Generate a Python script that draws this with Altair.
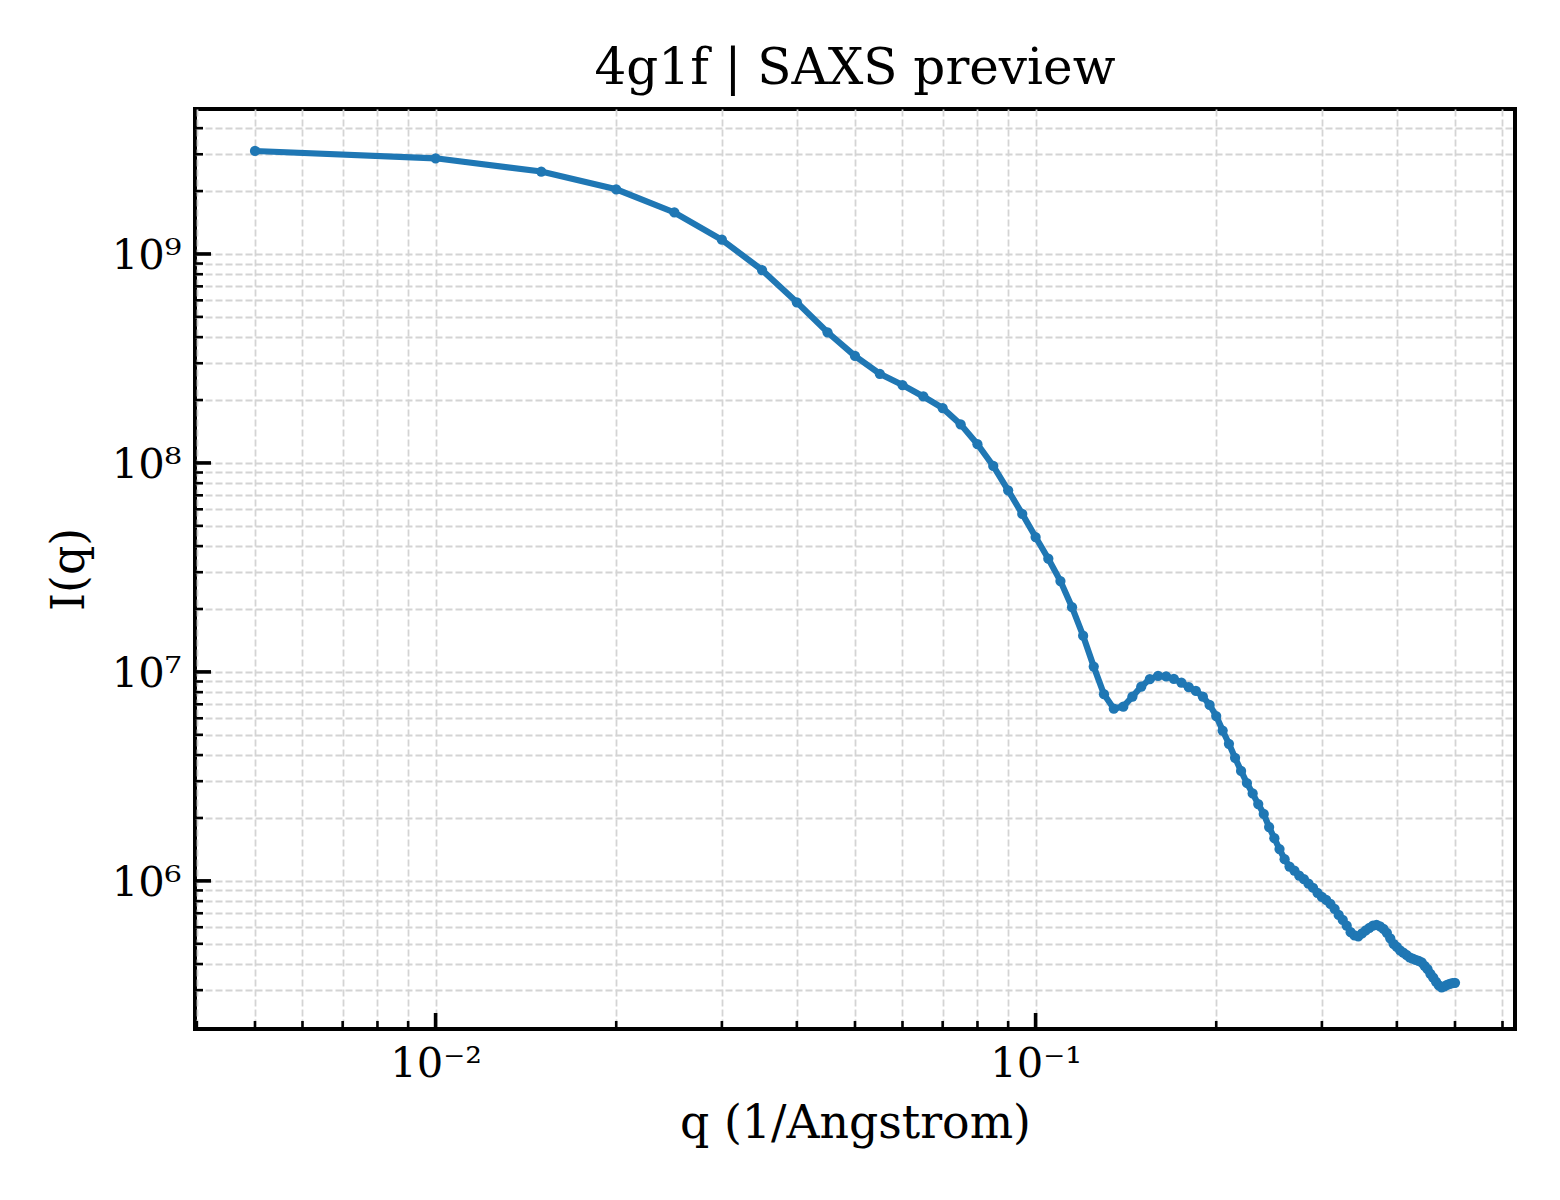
import altair as alt
import pandas as pd

# ---- data ----
q = [0.005, 0.010, 0.015, 0.020, 0.025, 0.030, 0.035, 0.040, 0.045, 0.050,
     0.055, 0.060, 0.065, 0.070, 0.075, 0.080, 0.085, 0.090, 0.095, 0.100,
     0.105, 0.110, 0.115, 0.120, 0.125, 0.130, 0.135, 0.140, 0.145, 0.150,
     0.155, 0.160, 0.165, 0.170, 0.175, 0.180, 0.185, 0.190, 0.195, 0.200,
     0.205, 0.210, 0.215, 0.220, 0.225, 0.230, 0.235, 0.240, 0.245, 0.250,
     0.255, 0.260, 0.265, 0.270, 0.275, 0.280, 0.285, 0.290, 0.295, 0.300,
     0.305, 0.310, 0.315, 0.320, 0.325, 0.330, 0.335, 0.340, 0.345, 0.350,
     0.355, 0.360, 0.365, 0.370, 0.375, 0.380, 0.385, 0.390, 0.395, 0.400,
     0.405, 0.410, 0.415, 0.420, 0.425, 0.430, 0.435, 0.440, 0.445, 0.450,
     0.455, 0.460, 0.465, 0.470, 0.475, 0.480, 0.485, 0.490, 0.495, 0.500]

intensity = [
    3.11e9, 2.87e9, 2.48e9, 2.04e9, 1.58e9, 1.17e9, 8.38e8, 5.87e8, 4.22e8, 3.25e8,
    2.67e8, 2.36e8, 2.08e8, 1.83e8, 1.53e8, 1.23e8, 9.68e7, 7.40e7, 5.70e7, 4.42e7,
    3.48e7, 2.72e7, 2.04e7, 1.49e7, 1.06e7, 7.82e6, 6.67e6, 6.82e6, 7.62e6, 8.51e6,
    9.23e6, 9.57e6, 9.51e6, 9.27e6, 8.89e6, 8.45e6, 8.11e6, 7.62e6, 6.95e6, 6.15e6,
    5.24e6, 4.53e6, 3.88e6, 3.36e6, 2.94e6, 2.62e6, 2.33e6, 2.09e6, 1.81e6, 1.60e6,
    1.42e6, 1.27e6, 1.17e6, 1.12e6, 1.06e6, 1.02e6, 9.70e5, 9.27e5, 8.77e5, 8.38e5,
    8.11e5, 7.76e5, 7.35e5, 6.87e5, 6.50e5, 6.10e5, 5.68e5, 5.48e5, 5.43e5, 5.61e5,
    5.79e5, 5.96e5, 6.10e5, 6.15e5, 6.05e5, 5.89e5, 5.64e5, 5.31e5, 5.00e5, 4.83e5,
    4.65e5, 4.53e5, 4.43e5, 4.31e5, 4.24e5, 4.19e5, 4.14e5, 4.07e5, 3.92e5, 3.78e5,
    3.59e5, 3.44e5, 3.29e5, 3.16e5, 3.09e5, 3.13e5, 3.18e5, 3.21e5, 3.24e5, 3.25e5,
]

x_major = [0.01, 0.1]
x_major_labels = ["10⁻²", "10⁻¹"]
x_minor = [0.004, 0.005, 0.006, 0.007, 0.008, 0.009,
           0.02, 0.03, 0.04, 0.05, 0.06, 0.07, 0.08, 0.09,
           0.2, 0.3, 0.4, 0.5, 0.6]

y_major = [1e6, 1e7, 1e8, 1e9]
y_major_labels = ["10⁶", "10⁷", "10⁸", "10⁹"]
y_minor = [3e5, 4e5, 5e5, 6e5, 7e5, 8e5, 9e5,
           2e6, 3e6, 4e6, 5e6, 6e6, 7e6, 8e6, 9e6,
           2e7, 3e7, 4e7, 5e7, 6e7, 7e7, 8e7, 9e7,
           2e8, 3e8, 4e8, 5e8, 6e8, 7e8, 8e8, 9e8,
           2e9, 3e9, 4e9]

x_domain = [0.003972, 0.6295]
y_domain = [1.955e5, 4.94e9]

# ---- layout / style ----
W, H = 1320, 920
FONT = "DejaVu Serif"
BLUE = "#1f77b4"


def label_expr(values, labels):
    expr = "''"
    for v, lab in reversed(list(zip(values, labels))):
        expr = f"datum.value == {v!r} ? '{lab}' : ({expr})"
    return expr


df = pd.DataFrame({"q": q, "I": intensity})
xs = alt.Scale(type="log", domain=x_domain, nice=False, zero=False)
ys = alt.Scale(type="log", domain=y_domain, nice=False, zero=False)

grid_common = dict(
    grid=True, gridColor="#d4d4d4", gridWidth=1.8, gridDash=[7, 3],
    ticks=False, domain=False, labelOverlap=False, labelFlush=False,
    labelFont=FONT, labelFontSize=41.7, labelColor="black",
    titleFont=FONT, titleFontSize=45.8, titleFontWeight="normal", titleColor="black",
)

x_axis = alt.Axis(
    values=sorted(x_major + x_minor),
    labelExpr=label_expr(x_major, x_major_labels),
    labelPadding=14, labelBaseline="top",
    title="q (1/Angstrom)", titleX=W / 2, titleY=108,
    titleBaseline="alphabetic", titleAlign="center",
    **grid_common,
)
y_axis = alt.Axis(
    values=sorted(y_major + y_minor),
    labelExpr=label_expr(y_major, y_major_labels),
    labelPadding=14, labelAlign="right", labelBaseline="middle", labelOffset=2,
    title="I(q)", titleX=-112, titleY=H / 2, titleAngle=270,
    titleBaseline="alphabetic", titleAlign="center",
    **grid_common,
)

line = alt.Chart(df).mark_line(color=BLUE, strokeWidth=6.2, clip=True).encode(
    x=alt.X("q:Q", scale=xs, axis=x_axis),
    y=alt.Y("I:Q", scale=ys, axis=y_axis),
)
dots = alt.Chart(df).mark_circle(color=BLUE, size=105, opacity=1, clip=True).encode(
    x=alt.X("q:Q", scale=xs, axis=x_axis),
    y=alt.Y("I:Q", scale=ys, axis=y_axis),
)

xmaj = alt.Chart(pd.DataFrame({"q": x_major})).mark_rule(color="black", strokeWidth=3.6).encode(
    x=alt.X("q:Q", scale=xs, axis=x_axis), y=alt.value(H), y2=alt.value(H - 16))
xmin = alt.Chart(pd.DataFrame({"q": x_minor})).mark_rule(color="black", strokeWidth=2.6, clip=True).encode(
    x=alt.X("q:Q", scale=xs, axis=x_axis), y=alt.value(H), y2=alt.value(H - 8))
ymaj = alt.Chart(pd.DataFrame({"I": y_major})).mark_rule(color="black", strokeWidth=3.6).encode(
    y=alt.Y("I:Q", scale=ys, axis=y_axis), x=alt.value(0), x2=alt.value(16))
ymin = alt.Chart(pd.DataFrame({"I": y_minor})).mark_rule(color="black", strokeWidth=2.6, clip=True).encode(
    y=alt.Y("I:Q", scale=ys, axis=y_axis), x=alt.value(0), x2=alt.value(8))

chart = alt.layer(line, dots, xmaj, xmin, ymaj, ymin).properties(
    width=W, height=H,
    autosize=alt.AutoSizeParams(type="none"),
    padding={"left": 187, "top": 101, "right": 30, "bottom": 150},
    title=alt.TitleParams(
        "4g1f | SAXS preview", font=FONT, fontSize=50, fontWeight="normal",
        color="black", anchor="middle", baseline="alphabetic", offset=22, dy=47,
    ),
).configure(
    background="white",
).configure_view(
    stroke="black", strokeWidth=4,
)

chart.save("out.html", embed_options={"renderer": "svg", "actions": False})
